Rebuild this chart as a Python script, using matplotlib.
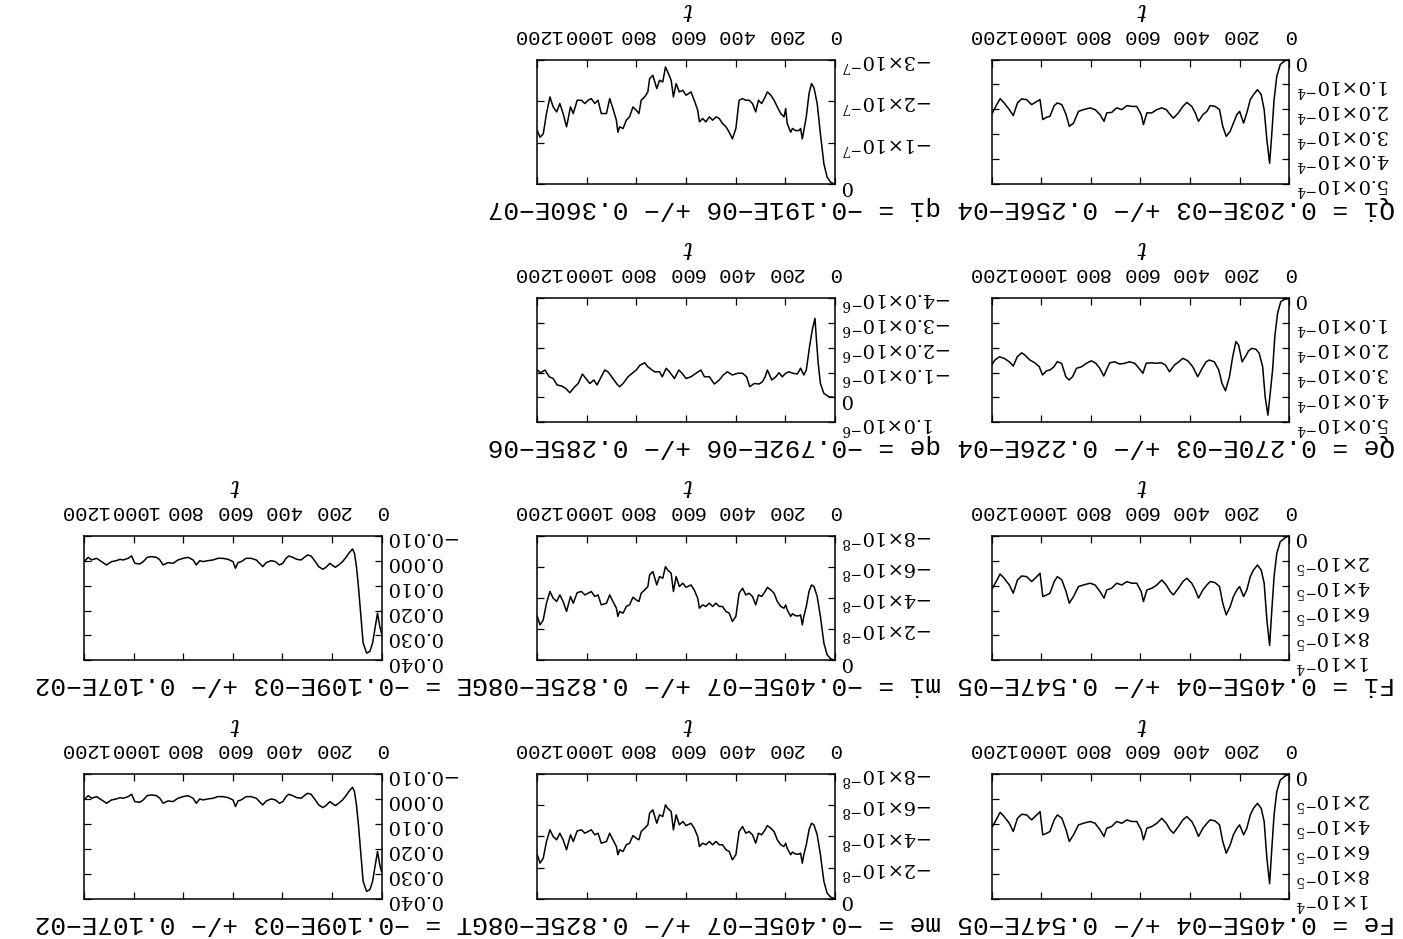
import numpy as np
import matplotlib
matplotlib.use("Agg")
import matplotlib.pyplot as plt

plt.rcParams["mathtext.fontset"] = "dejavuserif"
plt.rcParams["mathtext.default"] = "it"

W, H = 1403, 939

# ---------------- data ----------------
# time grid for Qi / Fi (Fe) panels
t_flux = [0, 16, 36, 50, 61, 70, 79, 90, 101, 113, 128, 144, 157, 171, 184, 200, 211, 225, 238, 254,
          268, 281, 299, 319, 332, 348, 366, 379, 393, 413, 429, 447, 467, 480, 496, 514, 534, 554, 574, 588,
          597, 615, 635, 655, 675, 696, 716, 736, 747, 763, 783, 803, 830, 850, 870, 887, 900, 917, 935, 948,
          965, 978, 994, 1005, 1018, 1039, 1059, 1079, 1096, 1113, 1129, 1150, 1166, 1182, 1197]
# Qi  (units 1e-4)
Qi_vals = [0.0, 0.04, 0.20, 0.67, 1.61, 2.95, 4.16, 3.22, 2.01, 1.41, 1.21, 1.41, 1.61, 2.14, 2.55, 2.08, 2.21, 2.55, 2.88, 3.08,
           2.68, 2.01, 1.88, 1.85, 2.08, 2.21, 2.48, 2.14, 1.88, 1.72, 1.88, 2.14, 2.35, 2.21, 2.01, 1.94, 2.01, 2.14, 2.14, 2.61,
           2.21, 1.88, 1.88, 1.85, 2.01, 1.94, 2.12, 2.14, 2.48, 2.21, 2.01, 1.94, 2.01, 2.08, 2.55, 2.68, 2.21, 1.81, 1.74, 1.85,
           2.28, 2.31, 2.41, 1.61, 1.68, 1.81, 1.61, 1.58, 1.74, 2.25, 2.01, 1.74, 1.57, 1.85, 2.14]
# Fi = Fe (units 1e-5)
Fi_vals = [0.0, 0.16, 0.48, 1.41, 3.28, 5.95, 8.80, 6.75, 3.81, 2.75, 2.35, 2.75, 3.28, 4.35, 4.88, 4.08, 4.35, 4.88, 5.68, 6.35,
           5.41, 4.08, 3.76, 3.68, 3.95, 4.35, 5.01, 4.35, 3.81, 3.41, 3.68, 4.21, 4.75, 4.48, 3.95, 3.55, 3.95, 4.21, 4.35, 5.28,
           4.48, 3.81, 3.81, 3.68, 3.95, 3.81, 4.21, 4.35, 5.01, 4.48, 3.95, 3.81, 3.95, 4.08, 4.88, 5.41, 4.48, 3.55, 3.28, 3.68,
           4.61, 4.75, 4.88, 3.01, 3.28, 3.68, 3.28, 3.23, 3.55, 4.61, 3.95, 3.41, 3.07, 3.68, 4.21]

# Qe (units 1e-4)
t_qe = [0, 20, 34, 47, 58, 67, 78, 86, 97, 107, 121, 134, 150, 164, 177, 190, 204, 215, 228, 241,
        257, 271, 284, 302, 322, 335, 351, 369, 389, 409, 429, 445, 463, 483, 499, 516, 536, 556, 577, 590,
        606, 623, 644, 664, 684, 704, 724, 748, 764, 780, 798, 818, 838, 858, 874, 888, 901, 918, 936, 949,
        965, 979, 995, 1008, 1026, 1046, 1066, 1079, 1097, 1113, 1129, 1150, 1169, 1187, 1200]
Qe_vals = [0.03, 0.07, 0.16, 0.63, 1.56, 2.90, 3.97, 4.71, 3.97, 2.77, 2.23, 2.07, 2.03, 2.13, 2.37, 2.57, 1.90, 1.76, 2.37, 3.17,
           3.73, 3.44, 2.90, 2.57, 2.50, 2.57, 2.83, 3.17, 2.77, 2.53, 2.43, 2.57, 2.70, 2.97, 2.70, 2.61, 2.63, 2.61, 2.63, 3.03,
           2.83, 2.63, 2.57, 2.63, 2.66, 2.57, 2.61, 3.14, 2.83, 2.63, 2.53, 2.63, 2.77, 2.83, 3.17, 3.30, 3.17, 2.63, 2.57, 2.77,
           2.90, 2.93, 3.10, 2.77, 2.61, 2.50, 2.30, 2.21, 2.37, 2.74, 2.57, 2.43, 2.37, 2.50, 2.70]

# qe (units 1e-6)
t_qe2 = [0, 24, 44, 58, 67, 74, 80, 91, 102, 115, 125, 138, 151, 169, 185, 198, 212, 225, 238, 254,
         272, 281, 292, 305, 325, 343, 356, 372, 392, 413, 433, 450, 466, 486, 506, 526, 540, 560, 580, 600,
         616, 629, 647, 667, 680, 696, 707, 727, 741, 754, 767, 785, 801, 817, 834, 854, 868, 879, 895, 915,
         928, 942, 959, 972, 988, 1004, 1018, 1035, 1049, 1069, 1085, 1102, 1120, 1136, 1152, 1169, 1187, 1200]
qe_vals = [0.0, -0.03, -0.16, -0.56, -1.37, -2.30, -3.17, -2.70, -2.03, -1.10, -0.90, -1.17, -0.94, -0.97, -1.03, -0.97, -0.83, -0.99, -0.83, -0.70,
           -1.10, -0.83, -0.63, -0.54, -0.56, -0.43, -0.83, -0.97, -0.97, -0.90, -1.03, -0.90, -0.70, -0.54, -0.83, -0.83, -1.10, -0.97, -0.83, -0.76,
           -0.97, -1.10, -0.76, -1.03, -1.17, -0.83, -1.03, -1.03, -1.13, -1.23, -1.39, -1.30, -1.10, -0.97, -0.83, -0.56, -0.43, -0.54, -0.76, -1.03,
           -1.10, -0.83, -0.50, -0.70, -0.56, -0.76, -0.94, -0.56, -0.43, -0.19, -0.36, -0.46, -0.50, -0.76, -0.83, -1.10, -0.99, -1.10]

# time grid for qi / mi (me) panels
t_mom = [0, 17, 31, 44, 58, 71, 84, 94, 104, 115, 125, 131, 138, 145, 158, 171, 178, 192, 198, 205,
         218, 232, 245, 258, 272, 281, 295, 308, 319, 332, 346, 359, 372, 386, 399, 413, 426, 439, 453, 466,
         479, 493, 506, 520, 533, 546, 553, 567, 580, 600, 613, 627, 640, 651, 660, 674, 683, 694, 707, 718,
         734, 747, 754, 767, 781, 790, 801, 814, 828, 841, 854, 868, 875, 881, 895, 908, 921, 942, 955, 968,
         982, 995, 1008, 1022, 1039, 1055, 1066, 1082, 1096, 1109, 1122, 1136, 1149, 1163, 1176, 1189, 1200]
# qi (units 1e-7)
qi_vals = [0.0, -0.05, -0.17, -0.49, -1.21, -1.94, -2.32, -2.42, -2.18, -1.62, -1.29, -1.09, -1.34, -1.29, -1.29, -1.34, -1.25, -1.46, -1.82, -1.62,
           -1.70, -1.86, -2.02, -2.14, -2.22, -2.10, -1.94, -2.02, -1.74, -1.94, -2.02, -2.02, -2.06, -2.02, -1.34, -1.09, -1.25, -1.38, -1.46, -1.58,
           -1.62, -1.54, -1.62, -1.50, -1.58, -1.50, -1.78, -2.02, -2.22, -2.14, -2.26, -2.22, -2.42, -2.10, -2.50, -2.70, -2.82, -2.46, -2.50, -2.30,
           -2.62, -2.54, -2.22, -2.10, -2.02, -1.70, -1.78, -1.86, -1.62, -1.54, -1.34, -1.38, -1.25, -1.54, -1.82, -2.06, -1.70, -1.70, -2.02, -1.94,
           -2.06, -2.02, -1.94, -2.02, -2.02, -1.70, -1.86, -1.38, -1.70, -1.94, -1.74, -1.86, -2.10, -1.70, -1.21, -1.13, -1.29]
# mi = me (units 1e-8)
mi_vals = [0.0, -0.11, -0.36, -1.11, -2.82, -4.10, -4.74, -4.84, -4.42, -3.46, -2.82, -2.28, -2.92, -2.86, -2.86, -2.99, -2.82, -3.24, -3.56, -3.35,
           -3.46, -3.78, -4.31, -4.52, -4.69, -4.42, -4.10, -4.20, -3.56, -4.10, -4.31, -4.20, -4.63, -4.31, -2.82, -2.50, -3.03, -3.14, -3.46, -3.46,
           -3.67, -3.46, -3.67, -3.46, -3.56, -3.35, -3.99, -4.52, -4.84, -4.69, -4.95, -4.74, -5.38, -4.42, -5.59, -5.80, -6.02, -5.27, -5.38, -4.84,
           -5.70, -5.48, -4.74, -4.52, -4.31, -3.78, -3.88, -4.05, -3.56, -3.46, -3.03, -3.14, -2.82, -3.35, -3.78, -4.20, -3.67, -3.56, -4.20, -4.10,
           -4.42, -4.31, -4.20, -4.42, -4.35, -3.67, -4.10, -3.14, -3.78, -4.20, -3.78, -3.99, -4.42, -3.67, -2.60, -2.28, -2.82]

# GE = GT (units 1e-3)
t_ex = [0, 7, 16, 25, 36, 47, 60, 74, 83, 93, 101, 109, 117, 130, 143, 157, 173, 186, 200, 208,
        224, 237, 253, 267, 284, 298, 311, 324, 342, 358, 374, 385, 398, 412, 428, 445, 465, 479, 492, 505,
        526, 546, 566, 579, 589, 599, 619, 640, 660, 680, 700, 720, 733, 747, 760, 780, 800, 821, 841, 861,
        881, 894, 908, 928, 945, 961, 975, 995, 1008, 1022, 1042, 1055, 1069, 1089, 1109, 1129, 1149, 1169, 1183, 1196]
GE_vals = [29.07, 26.40, 21.07, 26.40, 33.07, 36.40, 37.07, 33.07, 22.40, 10.40, 2.40, -2.93, -4.67, -3.20, -1.33, 0.40, 1.73, 2.67, 1.73, 1.07,
           2.67, 3.47, 2.40, 0.40, -1.87, -2.27, -1.33, -0.27, -0.53, -1.33, -1.87, -0.93, 1.07, 1.73, 0.40, 0.00, 0.80, 2.40, 1.07, -0.27,
           -0.93, -0.93, 0.40, 0.80, 3.07, 0.40, -0.53, -0.93, -0.93, -0.27, 0.00, 0.40, 0.00, 1.73, -0.27, -1.33, -0.93, -0.27, 1.07, 0.80,
           1.73, -0.27, -1.33, -1.60, -1.33, 0.40, 1.33, 1.07, -1.87, -0.93, -0.27, -0.53, 0.00, 0.40, 1.73, 0.40, -0.93, -0.27, -1.33, 0.00]

x_ticks = [0, 200, 400, 600, 800, 1000, 1200]
x_ticklabels = ["0", "200", "400", "600", "800", "1000", "1200"]

headers = {
    "Qi": "Qi = 0.203E\u221203 +/\u2212 0.256E\u221204",
    "qi": "qi = \u22120.191E\u221206 +/\u2212 0.360E\u221207",
    "Qe": "Qe = 0.270E\u221203 +/\u2212 0.226E\u221204",
    "qe": "qe = \u22120.792E\u221206 +/\u2212 0.285E\u221206",
    "Fi": "Fi = 0.405E\u221204 +/\u2212 0.547E\u221205",
    "mi": "mi = \u22120.405E\u221207 +/\u2212 0.825E\u221208",
    "GE": "GE = \u22120.109E\u221203 +/\u2212 0.107E\u221202",
    "Fe": "Fe = 0.405E\u221204 +/\u2212 0.547E\u221205",
    "me": "me = \u22120.405E\u221207 +/\u2212 0.825E\u221208",
    "GT": "GT = \u22120.109E\u221203 +/\u2212 0.107E\u221202",
}


def sci(mant, exp):
    return r"$\mathit{%s}{\times}\mathit{10}^{\mathit{%s}}$" % (mant, exp)


# y tick values / labels per panel type
Q_ticks = [0, 1e-4, 2e-4, 3e-4, 4e-4, 5e-4]
Q_labels = [r"$\mathit{0}$"] + [sci("%d.0" % k, "-4") for k in range(1, 6)]
F_ticks = [0, 2e-5, 4e-5, 6e-5, 8e-5, 1e-4]
F_labels = [r"$\mathit{0}$"] + [sci("%d" % k, "-5") for k in (2, 4, 6, 8)] + [sci("1", "-4")]
qi_ticks = [0, -1e-7, -2e-7, -3e-7]
qi_labels = [r"$\mathit{0}$"] + [sci("-%d" % k, "-7") for k in (1, 2, 3)]
qe_ticks = [1e-6, 0, -1e-6, -2e-6, -3e-6, -4e-6]
qe_labels = [sci("1.0", "-6"), r"$\mathit{0}$"] + [sci("-%d.0" % k, "-6") for k in (1, 2, 3, 4)]
m_ticks = [0, -2e-8, -4e-8, -6e-8, -8e-8]
m_labels = [r"$\mathit{0}$"] + [sci("-%d" % k, "-8") for k in (2, 4, 6, 8)]
G_ticks = [-0.01, 0.0, 0.01, 0.02, 0.03, 0.04]
G_labels = [r"$\mathit{-0.010}$", r"$\mathit{0.000}$", r"$\mathit{0.010}$",
            r"$\mathit{0.020}$", r"$\mathit{0.030}$", r"$\mathit{0.040}$"]

# ---------------- layout (figure drawn rotated by 180 degrees) ----------------
AW, AH = 297.5, 124.7
COLS = {"R": 991.7, "M": 537.3, "L": 84.0}
ROWS = [59.5, 297.7, 535.7, 774.0]
MONO = ["Liberation Mono", "DejaVu Sans Mono"]

fig = plt.figure(figsize=(W / 100, H / 100), dpi=100)
fig.patch.set_facecolor("white")


def panel(col, row, t, y, ylim, yt, yl, key):
    x0 = COLS[col]
    y0 = ROWS[row]
    ax = fig.add_axes([x0 / W, 1 - (y0 + AH) / H, AW / W, AH / H])
    ax.plot(t, y, color="black", lw=1.1)
    ax.set_xlim(1200, 0)
    ax.set_ylim(*ylim)
    ax.set_xticks(x_ticks, labels=x_ticklabels, family=MONO, fontsize=14.8)
    ax.set_yticks(yt, labels=yl, fontsize=14)
    ax.xaxis.tick_top()
    ax.yaxis.tick_right()
    ax.tick_params(axis="both", direction="in", length=5, width=0.9,
                   top=True, bottom=True, left=True, right=True)
    ax.tick_params(axis="x", labeltop=True, labelbottom=False, labelrotation=180, pad=10.5)
    ax.tick_params(axis="y", labelright=True, labelleft=False, labelrotation=180, pad=5)
    ax.xaxis.set_label_position("top")
    ax.set_xlabel("t", rotation=180, fontstyle="italic", family="DejaVu Serif",
                  fontsize=17, labelpad=7)
    for s in ax.spines.values():
        s.set_linewidth(1.1)
    fig.text((x0 + AW + 106) / W, 1 - (y0 + AH + 24) / H, headers[key],
             rotation=180, ha="right", va="center", family=MONO, fontsize=18.8)
    return ax


Qi = np.array(Qi_vals) * 1e-4
Fi = np.array(Fi_vals) * 1e-5
Qe = np.array(Qe_vals) * 1e-4
qe = np.array(qe_vals) * 1e-6
qi = np.array(qi_vals) * 1e-7
mi = np.array(mi_vals) * 1e-8
GE = np.array(GE_vals) * 1e-3

panel("R", 0, t_flux, Qi, (5e-4, 0), Q_ticks, Q_labels, "Qi")
panel("M", 0, t_mom, qi, (0, -3e-7), qi_ticks, qi_labels, "qi")
panel("R", 1, t_qe, Qe, (5e-4, 0), Q_ticks, Q_labels, "Qe")
panel("M", 1, t_qe2, qe, (1e-6, -4e-6), qe_ticks, qe_labels, "qe")
panel("R", 2, t_flux, Fi, (1e-4, 0), F_ticks, F_labels, "Fi")
panel("M", 2, t_mom, mi, (0, -8e-8), m_ticks, m_labels, "mi")
panel("L", 2, t_ex, GE, (0.04, -0.01), G_ticks, G_labels, "GE")
panel("R", 3, t_flux, Fi, (1e-4, 0), F_ticks, F_labels, "Fe")
panel("M", 3, t_mom, mi, (0, -8e-8), m_ticks, m_labels, "me")
panel("L", 3, t_ex, GE, (0.04, -0.01), G_ticks, G_labels, "GT")

fig.savefig("out.png", dpi=100)
